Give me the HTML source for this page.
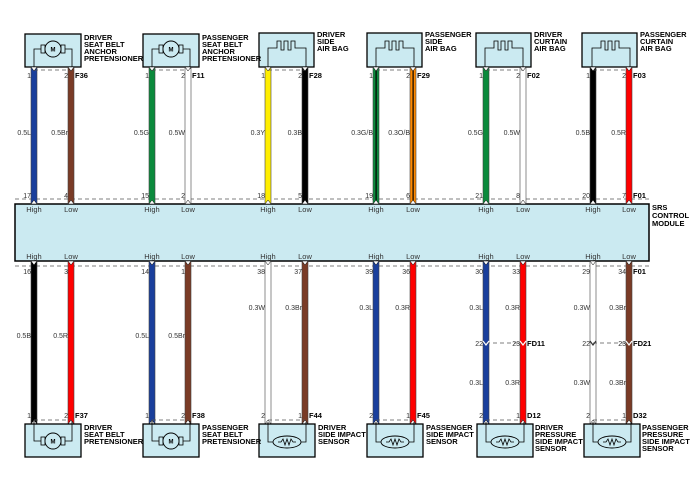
<!DOCTYPE html>
<html><head><meta charset="utf-8"><style>
html,body{margin:0;padding:0;background:#fff;}
svg{display:block;}
text{font-family:"Liberation Sans",Arial,sans-serif;}
.n{font-size:7px;fill:#333;}
.b{font-size:7.5px;font-weight:bold;fill:#000;}
.h{font-size:7.5px;fill:#333;}
</style></head><body>
<svg width="700" height="489" viewBox="0 0 700 489" xmlns="http://www.w3.org/2000/svg">
<defs>
<g id="motor">
<path d="M-19,20 V0 H-12 M12,0 H19 V20" fill="none" stroke="#000" stroke-width="0.8"/>
<rect x="-12" y="-4" width="4" height="8" fill="none" stroke="#000" stroke-width="0.8"/>
<rect x="8" y="-4" width="4" height="8" fill="none" stroke="#000" stroke-width="0.8"/>
<circle cx="0" cy="0" r="8" fill="#cbeaf1" stroke="#000" stroke-width="0.9"/>
</g>
<g id="bag">
<path d="M-19,20 V0 H-10 V-7 H-6 V2 H-3 V-7 H1 V2 H4 V-7 H8 V0 H19 V20" fill="none" stroke="#000" stroke-width="0.8"/>
</g>
<g id="res">
<path d="M-19,-20 V0 H-14 M14,0 H19 V-20" fill="none" stroke="#000" stroke-width="0.8"/>
<ellipse cx="0" cy="0" rx="14" ry="6" fill="none" stroke="#000" stroke-width="0.9"/>
<path d="M-9,0 H-6 L-4,-3 L-2,3 L0,-3 L2,3 L4,-3 L6,0 H9" fill="none" stroke="#000" stroke-width="0.8"/>
</g>
</defs>

<!-- Module -->
<rect x="15" y="204" width="634" height="57" fill="#cbeaf1" stroke="#000" stroke-width="1.5"/>
<line x1="15" y1="199" x2="649" y2="199" stroke="#555" stroke-dasharray="4,3" stroke-width="0.8"/>
<line x1="15" y1="266" x2="649" y2="266" stroke="#555" stroke-dasharray="4,3" stroke-width="0.8"/>
<text class="b" x="652" y="210">SRS</text>
<text class="b" x="652" y="218">CONTROL</text>
<text class="b" x="652" y="226">MODULE</text>

<!-- top wires -->
<g stroke="#444" stroke-width="0.6">
<rect x="31" y="68" width="6" height="136" fill="#1a3f9c"/>
<rect x="68" y="68" width="6" height="136" fill="#7a3b26"/>
<rect x="149" y="68" width="6" height="136" fill="#0b8a3c"/>
<rect x="185" y="68" width="6" height="136" fill="#fff"/>
<rect x="265" y="68" width="6" height="136" fill="#ffee00"/>
<rect x="302" y="68" width="6" height="136" fill="#000"/>
<rect x="373" y="68" width="6" height="136" fill="#0b8a3c"/>
<rect x="410" y="68" width="6" height="136" fill="#ff8a00"/>
<rect x="483" y="68" width="6" height="136" fill="#0b8a3c"/>
<rect x="520" y="68" width="6" height="136" fill="#fff"/>
<rect x="590" y="68" width="6" height="136" fill="#000"/>
<rect x="626" y="68" width="6" height="136" fill="#ff0000"/>
</g>
<rect x="375.5" y="68" width="1.2" height="136" fill="#000"/>
<rect x="412.5" y="68" width="1.2" height="136" fill="#000"/>

<!-- bottom wires -->
<g stroke="#444" stroke-width="0.6">
<rect x="31" y="261" width="6" height="163" fill="#000"/>
<rect x="68" y="261" width="6" height="163" fill="#ff0000"/>
<rect x="149" y="261" width="6" height="163" fill="#1a3f9c"/>
<rect x="185" y="261" width="6" height="163" fill="#7a3b26"/>
<rect x="265" y="261" width="6" height="163" fill="#fff"/>
<rect x="302" y="261" width="6" height="163" fill="#7a3b26"/>
<rect x="373" y="261" width="6" height="163" fill="#1a3f9c"/>
<rect x="410" y="261" width="6" height="163" fill="#ff0000"/>
<rect x="483" y="261" width="6" height="163" fill="#1a3f9c"/>
<rect x="520" y="261" width="6" height="163" fill="#ff0000"/>
<rect x="590" y="261" width="6" height="163" fill="#fff"/>
<rect x="626" y="261" width="6" height="163" fill="#7a3b26"/>
</g>

<!-- top components -->
<g fill="#cbeaf1" stroke="#000" stroke-width="1.3">
<rect x="25" y="34" width="56" height="33"/>
<rect x="143" y="34" width="56" height="33"/>
<rect x="259" y="33" width="55" height="34"/>
<rect x="367" y="33" width="55" height="34"/>
<rect x="476" y="33" width="55" height="34"/>
<rect x="582" y="33" width="55" height="34"/>
</g>
<use href="#motor" x="53" y="49"/>
<use href="#motor" x="171" y="49"/>
<text x="53" y="51.5" font-size="6" font-weight="bold" text-anchor="middle">M</text>
<text x="171" y="51.5" font-size="6" font-weight="bold" text-anchor="middle">M</text>
<use href="#bag" x="287" y="48"/>
<use href="#bag" x="395" y="48"/>
<use href="#bag" x="504" y="48"/>
<use href="#bag" x="611" y="48"/>
<g stroke="#555" stroke-dasharray="4,3" stroke-width="0.8">
<line x1="34" y1="70" x2="71" y2="70"/><line x1="152" y1="70" x2="188" y2="70"/>
<line x1="268" y1="70" x2="305" y2="70"/><line x1="376" y1="70" x2="413" y2="70"/>
<line x1="486" y1="70" x2="523" y2="70"/><line x1="593" y1="70" x2="629" y2="70"/>
<line x1="34" y1="420" x2="71" y2="420"/><line x1="152" y1="420" x2="188" y2="420"/>
<line x1="268" y1="420" x2="305" y2="420"/><line x1="376" y1="420" x2="413" y2="420"/>
<line x1="486" y1="420" x2="523" y2="420"/><line x1="593" y1="420" x2="629" y2="420"/>
<line x1="486" y1="343" x2="523" y2="343"/><line x1="593" y1="343" x2="629" y2="343"/>
</g>

<!-- pin arrowheads -->
<g fill="#fff" stroke="#000" stroke-width="0.5">
<path d="M31,67 L37,67 L34,71Z"/><path d="M68,67 L74,67 L71,71Z"/>
<path d="M149,67 L155,67 L152,71Z"/><path d="M185,67 L191,67 L188,71Z"/>
<path d="M265,67 L271,67 L268,71Z"/><path d="M302,67 L308,67 L305,71Z"/>
<path d="M373,67 L379,67 L376,71Z"/><path d="M410,67 L416,67 L413,71Z"/>
<path d="M483,67 L489,67 L486,71Z"/><path d="M520,67 L526,67 L523,71Z"/>
<path d="M590,67 L596,67 L593,71Z"/><path d="M626,67 L632,67 L629,71Z"/>
<path d="M31,204 L37,204 L34,200Z"/><path d="M68,204 L74,204 L71,200Z"/>
<path d="M149,204 L155,204 L152,200Z"/><path d="M185,204 L191,204 L188,200Z"/>
<path d="M265,204 L271,204 L268,200Z"/><path d="M302,204 L308,204 L305,200Z"/>
<path d="M373,204 L379,204 L376,200Z"/><path d="M410,204 L416,204 L413,200Z"/>
<path d="M483,204 L489,204 L486,200Z"/><path d="M520,204 L526,204 L523,200Z"/>
<path d="M590,204 L596,204 L593,200Z"/><path d="M626,204 L632,204 L629,200Z"/>
<path d="M31,261 L37,261 L34,265Z"/><path d="M68,261 L74,261 L71,265Z"/>
<path d="M149,261 L155,261 L152,265Z"/><path d="M185,261 L191,261 L188,265Z"/>
<path d="M265,261 L271,261 L268,265Z"/><path d="M302,261 L308,261 L305,265Z"/>
<path d="M373,261 L379,261 L376,265Z"/><path d="M410,261 L416,261 L413,265Z"/>
<path d="M483,261 L489,261 L486,265Z"/><path d="M520,261 L526,261 L523,265Z"/>
<path d="M590,261 L596,261 L593,265Z"/><path d="M626,261 L632,261 L629,265Z"/>
<path d="M31,424 L37,424 L34,420Z"/><path d="M68,424 L74,424 L71,420Z"/>
<path d="M149,424 L155,424 L152,420Z"/><path d="M185,424 L191,424 L188,420Z"/>
<path d="M265,424 L271,424 L268,420Z"/><path d="M302,424 L308,424 L305,420Z"/>
<path d="M373,424 L379,424 L376,420Z"/><path d="M410,424 L416,424 L413,420Z"/>
<path d="M483,424 L489,424 L486,420Z"/><path d="M520,424 L526,424 L523,420Z"/>
<path d="M590,424 L596,424 L593,420Z"/><path d="M626,424 L632,424 L629,420Z"/>
</g>

<!-- top labels -->
<g class="b">
<text x="84" y="40">DRIVER</text><text x="84" y="47">SEAT BELT</text><text x="84" y="54">ANCHOR</text><text x="84" y="61">PRETENSIONER</text>
<text x="202" y="40">PASSENGER</text><text x="202" y="47">SEAT BELT</text><text x="202" y="54">ANCHOR</text><text x="202" y="61">PRETENSIONER</text>
<text x="317" y="37">DRIVER</text><text x="317" y="44">SIDE</text><text x="317" y="51">AIR BAG</text>
<text x="425" y="37">PASSENGER</text><text x="425" y="44">SIDE</text><text x="425" y="51">AIR BAG</text>
<text x="534" y="37">DRIVER</text><text x="534" y="44">CURTAIN</text><text x="534" y="51">AIR BAG</text>
<text x="640" y="37">PASSENGER</text><text x="640" y="44">CURTAIN</text><text x="640" y="51">AIR BAG</text>
<text x="75" y="78">F36</text><text x="192" y="78">F11</text><text x="309" y="78">F28</text>
<text x="417" y="78">F29</text><text x="527" y="78">F02</text><text x="633" y="78">F03</text>
<text x="633" y="198">F01</text><text x="633" y="274">F01</text>
<text x="527" y="346">FD11</text><text x="633" y="346">FD21</text>
<text x="75" y="418">F37</text><text x="192" y="418">F38</text><text x="309" y="418">F44</text>
<text x="417" y="418">F45</text><text x="527" y="418">D12</text><text x="633" y="418">D32</text>
</g>
<g class="n" text-anchor="end">
<text x="31" y="78">1</text><text x="68" y="78">2</text><text x="149" y="78">1</text><text x="185" y="78">2</text>
<text x="265" y="78">1</text><text x="302" y="78">2</text><text x="373" y="78">1</text><text x="410" y="78">2</text>
<text x="483" y="78">1</text><text x="520" y="78">2</text><text x="590" y="78">1</text><text x="626" y="78">2</text>
<text x="31" y="135">0.5L</text><text x="68" y="135">0.5Br</text><text x="149" y="135">0.5G</text><text x="185" y="135">0.5W</text>
<text x="265" y="135">0.3Y</text><text x="302" y="135">0.3B</text><text x="373" y="135">0.3G/B</text><text x="410" y="135">0.3O/B</text>
<text x="483" y="135">0.5G</text><text x="520" y="135">0.5W</text><text x="590" y="135">0.5B</text><text x="626" y="135">0.5R</text>
<text x="31" y="198">17</text><text x="68" y="198">4</text><text x="149" y="198">15</text><text x="185" y="198">2</text>
<text x="265" y="198">18</text><text x="302" y="198">5</text><text x="373" y="198">19</text><text x="410" y="198">6</text>
<text x="483" y="198">21</text><text x="520" y="198">8</text><text x="590" y="198">20</text><text x="626" y="198">7</text>
<text x="31" y="274">16</text><text x="68" y="274">3</text><text x="149" y="274">14</text><text x="185" y="274">1</text>
<text x="265" y="274">38</text><text x="302" y="274">37</text><text x="373" y="274">39</text><text x="410" y="274">36</text>
<text x="483" y="274">30</text><text x="520" y="274">33</text><text x="590" y="274">29</text><text x="626" y="274">34</text>
<text x="31" y="338">0.5B</text><text x="68" y="338">0.5R</text><text x="149" y="338">0.5L</text><text x="185" y="338">0.5Br</text>
<text x="265" y="310">0.3W</text><text x="302" y="310">0.3Br</text><text x="373" y="310">0.3L</text><text x="410" y="310">0.3R</text>
<text x="483" y="310">0.3L</text><text x="520" y="310">0.3R</text><text x="590" y="310">0.3W</text><text x="626" y="310">0.3Br</text>
<text x="483" y="346">22</text><text x="520" y="346">23</text><text x="590" y="346">22</text><text x="626" y="346">23</text>
<text x="483" y="385">0.3L</text><text x="520" y="385">0.3R</text><text x="590" y="385">0.3W</text><text x="626" y="385">0.3Br</text>
<text x="31" y="418">1</text><text x="68" y="418">2</text><text x="149" y="418">1</text><text x="185" y="418">2</text>
<text x="265" y="418">2</text><text x="302" y="418">1</text><text x="373" y="418">2</text><text x="410" y="418">1</text>
<text x="483" y="418">2</text><text x="520" y="418">1</text><text x="590" y="418">2</text><text x="626" y="418">1</text>
</g>
<g class="h" text-anchor="middle">
<text x="34" y="212">High</text><text x="71" y="212">Low</text><text x="152" y="212">High</text><text x="188" y="212">Low</text>
<text x="268" y="212">High</text><text x="305" y="212">Low</text><text x="376" y="212">High</text><text x="413" y="212">Low</text>
<text x="486" y="212">High</text><text x="523" y="212">Low</text><text x="593" y="212">High</text><text x="629" y="212">Low</text>
<text x="34" y="259">High</text><text x="71" y="259">Low</text><text x="152" y="259">High</text><text x="188" y="259">Low</text>
<text x="268" y="259">High</text><text x="305" y="259">Low</text><text x="376" y="259">High</text><text x="413" y="259">Low</text>
<text x="486" y="259">High</text><text x="523" y="259">Low</text><text x="593" y="259">High</text><text x="629" y="259">Low</text>
</g>

<!-- FD connector chevrons -->
<g fill="none" stroke="#fff" stroke-width="1.2">
<path d="M483,341 L486,345 L489,341"/><path d="M520,341 L523,345 L526,341"/>
<path d="M590,341 L593,345 L596,341" stroke="#333"/><path d="M626,341 L629,345 L632,341"/>
</g>

<!-- bottom components -->
<g fill="#cbeaf1" stroke="#000" stroke-width="1.3">
<rect x="25" y="424" width="56" height="33"/>
<rect x="143" y="424" width="56" height="33"/>
<rect x="259" y="424" width="56" height="33"/>
<rect x="367" y="424" width="56" height="33"/>
<rect x="477" y="424" width="56" height="33"/>
<rect x="584" y="424" width="56" height="33"/>
</g>
<g transform="translate(53,441) scale(1,-1)"><use href="#motor"/></g>
<g transform="translate(171,441) scale(1,-1)"><use href="#motor"/></g>
<text x="53" y="443.5" font-size="6" font-weight="bold" text-anchor="middle">M</text>
<text x="171" y="443.5" font-size="6" font-weight="bold" text-anchor="middle">M</text>
<use href="#res" x="287" y="442"/>
<use href="#res" x="395" y="442"/>
<use href="#res" x="505" y="442"/>
<use href="#res" x="612" y="442"/>
<g class="b">
<text x="84" y="430">DRIVER</text><text x="84" y="437">SEAT BELT</text><text x="84" y="444">PRETENSIONER</text>
<text x="202" y="430">PASSENGER</text><text x="202" y="437">SEAT BELT</text><text x="202" y="444">PRETENSIONER</text>
<text x="318" y="430">DRIVER</text><text x="318" y="437">SIDE IMPACT</text><text x="318" y="444">SENSOR</text>
<text x="426" y="430">PASSENGER</text><text x="426" y="437">SIDE IMPACT</text><text x="426" y="444">SENSOR</text>
<text x="535" y="430">DRIVER</text><text x="535" y="437">PRESSURE</text><text x="535" y="444">SIDE IMPACT</text><text x="535" y="451">SENSOR</text>
<text x="642" y="430">PASSENGER</text><text x="642" y="437">PRESSURE</text><text x="642" y="444">SIDE IMPACT</text><text x="642" y="451">SENSOR</text>
</g>
</svg>
</body></html>
